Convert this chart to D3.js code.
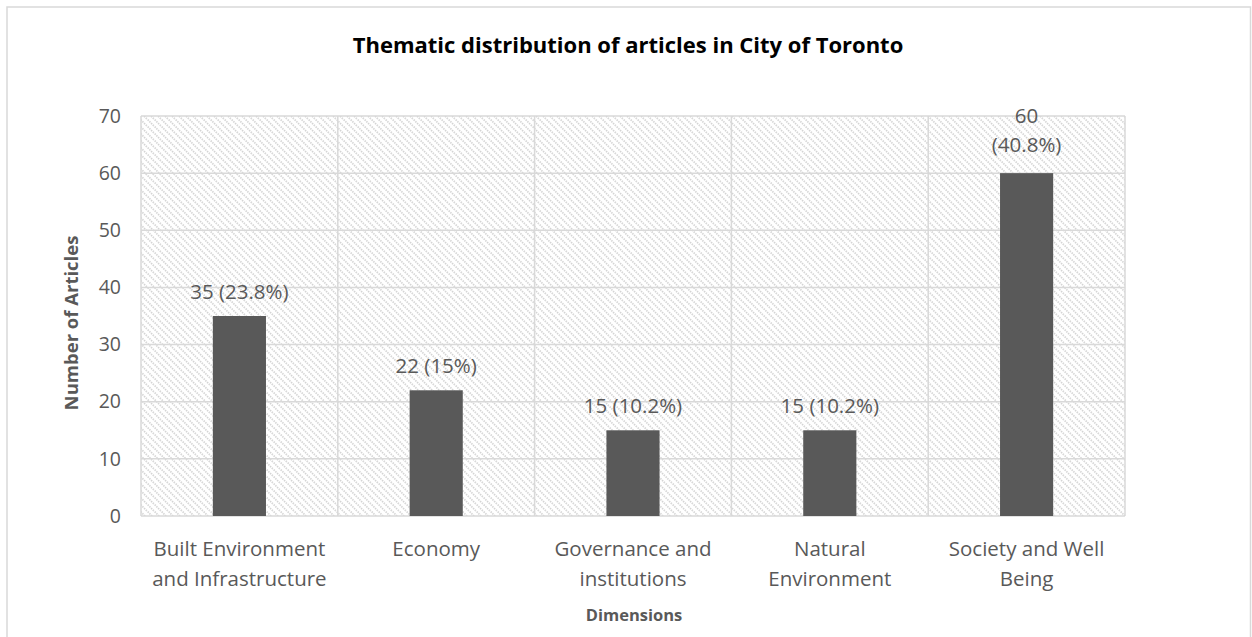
<!DOCTYPE html>
<html>
<head>
<meta charset="utf-8">
<script src="https://cdn.jsdelivr.net/npm/d3@7"></script>
<style>
  html, body { margin: 0; padding: 0; background: #fff; }
  svg { display: block; font-family: "Open Sans", "Noto Sans", sans-serif; }
</style>
</head>
<body>
<svg id="chart" width="1252" height="637"></svg>
<script>
// Articles per thematic dimension
const categories = [
  "Built Environment\nand Infrastructure",
  "Economy",
  "Governance and\ninstitutions",
  "Natural\nEnvironment",
  "Society and Well\nBeing"
];
const counts = [35, 22, 15, 15, 60];
const shares = ["23.8%", "15%", "10.2%", "10.2%", "40.8%"];
const yTicks = [0, 10, 20, 30, 40, 50, 60, 70];

const W = 1252, H = 637;
const margin = { left: 141, right: W - 1125, top: 116, bottom: H - 516 };
const svg = d3.select("#chart");

const grid = "#d9d9d9", ink = "#595959";
const fs = 20.5;

// diagonal hatch used as plot background
const defs = svg.append("defs");
const pat = defs.append("pattern")
  .attr("id", "hatch").attr("patternUnits", "userSpaceOnUse")
  .attr("width", 7).attr("height", 7);
pat.append("rect").attr("width", 7).attr("height", 7).attr("fill", "#fff");
pat.append("path").attr("d", "M-1,-1 L8,8 M-8,-1 L1,8 M6,-1 L15,8")
  .attr("stroke", "#d4d4d4").attr("stroke-width", 1.7)
  .attr("stroke-dasharray", "1.4 1");

// chart frame
svg.append("rect").attr("x", 7).attr("y", 7).attr("width", 1243.5).attr("height", 660)
  .attr("fill", "#fff").attr("stroke", grid).attr("stroke-width", 1.5);

const x = d3.scaleBand().domain(d3.range(categories.length))
  .range([margin.left, W - margin.right]).paddingInner(0).paddingOuter(0);
const y = d3.scaleLinear().domain([0, 70]).range([H - margin.bottom, margin.top]);

// plot area
svg.append("rect")
  .attr("x", margin.left).attr("y", margin.top)
  .attr("width", W - margin.left - margin.right)
  .attr("height", H - margin.top - margin.bottom)
  .attr("fill", "url(#hatch)");

// horizontal gridlines
svg.append("g").selectAll("line").data(yTicks).join("line")
  .attr("x1", margin.left).attr("x2", W - margin.right)
  .attr("y1", d => y(d)).attr("y2", d => y(d))
  .attr("stroke", grid).attr("stroke-width", 1.5);

// vertical gridlines at category boundaries
const bounds = d3.range(categories.length + 1).map(i =>
  i < categories.length ? x(i) : x(categories.length - 1) + x.bandwidth());
svg.append("g").selectAll("line").data(bounds).join("line")
  .attr("x1", d => d).attr("x2", d => d)
  .attr("y1", margin.top).attr("y2", H - margin.bottom)
  .attr("stroke", grid).attr("stroke-width", 1.5);

// y axis labels
const yAxis = d3.axisLeft(y).tickValues(yTicks).tickSize(0).tickPadding(20);
const gy = svg.append("g").attr("transform", `translate(${margin.left},0)`).call(yAxis);
gy.select(".domain").remove();
gy.selectAll("text").attr("fill", ink).attr("font-size", 19.5)
  .attr("font-family", "\"Open Sans\", sans-serif");

// bars
const barW = x.bandwidth() * 0.27;
svg.append("g").selectAll("rect").data(counts).join("rect")
  .attr("x", (d, i) => x(i) + x.bandwidth() / 2 - barW / 2)
  .attr("y", d => y(d))
  .attr("width", barW)
  .attr("height", d => y(0) - y(d))
  .attr("fill", ink);

// value labels
const lbl = svg.append("g").attr("fill", ink).attr("font-size", fs).attr("text-anchor", "middle");
counts.forEach((v, i) => {
  const cx = x(i) + x.bandwidth() / 2;
  const t = lbl.append("text").attr("x", cx);
  if (y(v) - margin.top < 80) {
    // tall bar: split label over two lines
    t.attr("y", y(v) - 50);
    t.append("tspan").attr("x", cx).attr("dy", 0).text(v);
    t.append("tspan").attr("x", cx).attr("dy", 29).text(`(${shares[i]})`);
  } else {
    t.attr("y", y(v) - 17).text(`${v} (${shares[i]})`);
  }
});

// category labels
const cat = svg.append("g").attr("fill", ink).attr("font-size", fs).attr("text-anchor", "middle");
categories.forEach((c, i) => {
  const cx = x(i) + x.bandwidth() / 2;
  const t = cat.append("text").attr("x", cx).attr("y", 556);
  c.split("\n").forEach((line, j) => {
    t.append("tspan").attr("x", cx).attr("dy", j === 0 ? 0 : 30).text(line);
  });
});

// titles
svg.append("text").attr("x", 628).attr("y", 53).attr("text-anchor", "middle")
  .attr("font-size", 22).attr("font-weight", "bold").attr("fill", "#000")
  .text("Thematic distribution of articles in City of Toronto");

svg.append("text").attr("x", 634).attr("y", 621).attr("text-anchor", "middle")
  .attr("font-size", 16.5).attr("font-weight", "bold").attr("fill", ink)
  .text("Dimensions");

svg.append("text")
  .attr("transform", "translate(78,323) rotate(-90)")
  .attr("text-anchor", "middle")
  .attr("font-size", 18.5).attr("font-weight", "bold").attr("fill", ink)
  .text("Number of Articles");
</script>
</body>
</html>
